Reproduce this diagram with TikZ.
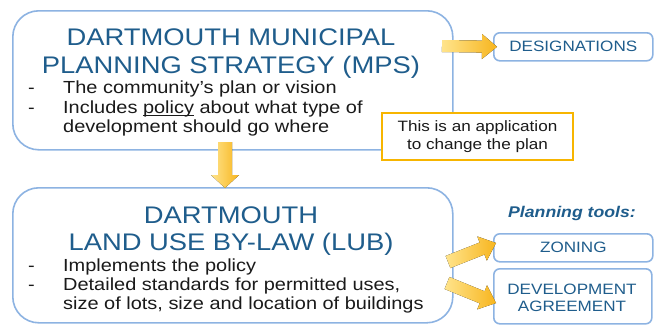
\documentclass[tikz,border=0pt]{standalone}
\usepackage{fontspec}
\setmainfont[FakeStretch=1.14]{Liberation Sans}
\usetikzlibrary{calc}
\definecolor{boxline}{HTML}{8DB3E2}
\definecolor{titleblue}{HTML}{1F5D8C}
\definecolor{noteorange}{HTML}{F7B500}
\definecolor{arrowlight}{HTML}{FFE48C}
\definecolor{arrowdark}{HTML}{F7B51E}
\definecolor{bodytext}{HTML}{1A1A1A}
\tikzset{
  bigbox/.style={draw=boxline, line width=1.6pt, rounded corners=26pt, fill=white, anchor=north west, inner sep=0pt},
  smallbox/.style={draw=boxline, line width=1.6pt, rounded corners=6pt, fill=white, anchor=north west, inner sep=0pt},
  titletext/.style={text=titleblue, font=\fontsize{24}{28}\selectfont, anchor=base, inner sep=0pt},
  bodyline/.style={text=bodytext, font=\fontsize{17.5}{20}\selectfont, anchor=base west, inner sep=0pt},
  toollabel/.style={text=titleblue, font=\fontsize{15}{17}\selectfont, inner sep=0pt, align=center},
  notebox/.style={draw=noteorange, line width=1.8pt, fill=white, minimum width=191pt, minimum height=47pt, align=center, text=bodytext, font=\fontsize{15}{18}\selectfont, inner sep=0pt},
  yellowarrow/.style={left color=arrowlight, right color=arrowdark, draw=none},
}
\newcommand{\myul}[1]{\setbox0\hbox{#1}\rlap{\rule[-2.6pt]{\wd0}{0.9pt}}\box0\relax}
\newcommand{\myblockarrow}[5]{%
  \coordinate (hb) at ($(#2)!#5!(#1)$);
  \fill[yellowarrow] ($(#1)!#3!90:(#2)$) -- ($(hb)!#3!90:(#2)$) -- ($(hb)!#4!90:(#2)$) -- (#2)
    -- ($(hb)!#4!-90:(#2)$) -- ($(hb)!#3!-90:(#2)$) -- ($(#1)!#3!-90:(#2)$) -- cycle;
}
\begin{document}
\begin{tikzpicture}[x=1pt,y=-1pt]
\useasboundingbox (0,0) rectangle (660,324);
\clip (0,0) rectangle (660,324);

% big boxes
\node[bigbox, minimum width=440pt, minimum height=139pt] (mps) at (12,10) {};
\node[bigbox, minimum width=440pt, minimum height=135pt] (lub) at (12,187) {};

% small boxes
\node[smallbox, minimum width=159pt, minimum height=28pt, toollabel] (desig) at (493,32) {DESIGNATIONS};
\node[smallbox, minimum width=159pt, minimum height=28pt, toollabel] (zoning) at (493,233) {ZONING};
\node[smallbox, minimum width=158pt, minimum height=55pt] (dev) at (493,268) {};
\node[toollabel] (devtext) at (572,298) {DEVELOPMENT\\AGREEMENT};

% titles
\node[titletext] (mpsA) at (231,45) {DARTMOUTH MUNICIPAL};
\node[titletext] (mpsB) at (231,73) {PLANNING STRATEGY (MPS)};
\node[titletext] (lubA) at (231,223) {DARTMOUTH};
\node[titletext] (lubB) at (231,250) {LAND USE BY-LAW (LUB)};

% bullets
\node[bodyline] (d1) at (28,93) {-};
\node[bodyline] (t1) at (63,93) {The community’s plan or vision};
\node[bodyline] (d2) at (28,113) {-};
\node[bodyline] (t2) at (63,113) {Includes \myul{policy} about what type of};
\node[bodyline] (t3) at (63,132) {development should go where};
\node[bodyline] (d3) at (28,271) {-};
\node[bodyline] (t4) at (63,271) {Implements the policy};
\node[bodyline] (d4) at (28,290) {-};
\node[bodyline] (t5) at (63,290) {Detailed standards for permitted uses,};
\node[bodyline] (t6) at (63,309) {size of lots, size and location of buildings};

% planning tools
\node[text=titleblue, font=\fontsize{15.5}{17}\selectfont\bfseries\itshape, anchor=base, inner sep=0pt] (tools) at (572,217) {Planning tools:};

% arrows
\coordinate (a1tail) at (442,46);
\coordinate (a1tip) at ($(desig.west)+(4,0)$);
\myblockarrow{a1tail}{a1tip}{6pt}{12.5pt}{15pt}
\coordinate (a2tail) at (225,142);
\coordinate (a2tip) at (225,188);
\myblockarrow{a2tail}{a2tip}{7pt}{14pt}{13pt}
\coordinate (a3tail) at (448,262);
\coordinate (a3tip) at (496,243);
\myblockarrow{a3tail}{a3tip}{6.5pt}{13pt}{15pt}
\coordinate (a4tail) at (447,283);
\coordinate (a4tip) at (496,303);
\myblockarrow{a4tail}{a4tip}{6.5pt}{13pt}{15pt}

% note
\node[notebox] (note) at (477.5,136.5) {This is an application\\to change the plan};
\end{tikzpicture}
\end{document}
